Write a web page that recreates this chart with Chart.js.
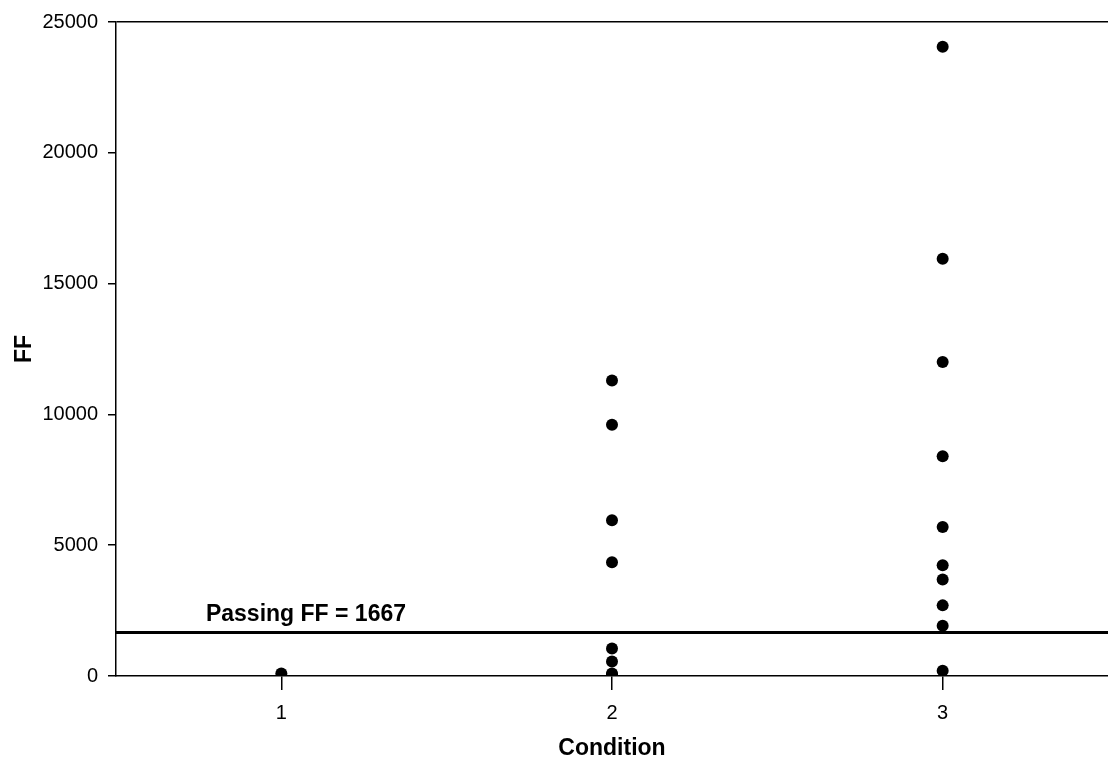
<!DOCTYPE html>
<html>
<head>
<meta charset="utf-8">
<script src="https://cdn.jsdelivr.net/npm/chart.js@4/dist/chart.umd.min.js"></script>
<style>
  html, body { margin: 0; padding: 0; background: #fff; overflow: hidden; }
  #wrap { width: 1108px; height: 762px; position: relative; }
</style>
</head>
<body>
<div id="wrap"><canvas id="c"></canvas></div>
<script>
// Condition categories on the x axis
const conditions = [1, 2, 3];

// FF values observed under each condition
const condition1FF = [100];
const condition2FF = [11300, 9600, 5950, 4350, 1050, 550, 100, 50];
const condition3FF = [24050, 15950, 12000, 8400, 5700, 4230, 3690, 2700, 1920, 200];

// Passing threshold
const passingFF = 1667;
const passingLabel = 'Passing FF = ' + passingFF;

// Y axis range and tick step
const yMax = 25000;
const yStep = 5000;

const FONT = '"Liberation Sans", Arial, Helvetica, sans-serif';

const toPoints = (cond, vals) => vals.map(v => ({ x: cond, y: v }));
const allPoints = [].concat(
  toPoints(conditions[0], condition1FF),
  toPoints(conditions[1], condition2FF),
  toPoints(conditions[2], condition3FF)
);

// Writes the threshold caption just above the passing line
const passingCaption = {
  id: 'passingCaption',
  afterDatasetsDraw(chart) {
    const { ctx, scales } = chart;
    const x = scales.x.getPixelForValue(0.772);
    const y = scales.y.getPixelForValue(passingFF) - 11;
    ctx.save();
    ctx.font = 'bold 23px ' + FONT;
    ctx.fillStyle = '#000';
    ctx.textAlign = 'left';
    ctx.textBaseline = 'alphabetic';
    ctx.fillText(passingLabel, x, y);
    ctx.restore();
  }
};

new Chart(document.getElementById('c'), {
  type: 'scatter',
  data: {
    datasets: [
      {
        label: 'FF',
        data: allPoints,
        pointRadius: 6,
        pointHoverRadius: 6,
        pointBackgroundColor: '#000',
        pointBorderColor: '#000',
        pointBorderWidth: 0
      },
      {
        label: 'Passing',
        data: [{ x: 0.5, y: passingFF }, { x: 3.5, y: passingFF }],
        showLine: true,
        borderColor: '#000',
        borderWidth: 3,
        pointRadius: 0,
        pointHoverRadius: 0
      }
    ]
  },
  options: {
    responsive: true,
    maintainAspectRatio: false,
    animation: false,
    layout: { autoPadding: false, padding: { top: 20, right: 0, left: 0, bottom: 0 } },
    plugins: {
      legend: { display: false },
      tooltip: { enabled: false }
    },
    scales: {
      x: {
        type: 'linear',
        min: 0.5,
        max: 3.5,
        afterBuildTicks(scale) {
          scale.ticks = conditions.map(v => ({ value: v }));
        },
        afterFit(scale) { scale.height = 86; },
        grid: {
          drawOnChartArea: false,
          color: '#000',
          tickColor: '#000',
          tickLength: 14,
          lineWidth: 1.5
        },
        border: { display: true, color: '#000', width: 1.5 },
        ticks: {
          color: '#000',
          font: { family: FONT, size: 20 },
          padding: 11,
          maxRotation: 0,
          callback: v => String(v)
        },
        title: {
          display: true,
          text: 'Condition',
          color: '#000',
          font: { family: FONT, size: 23, weight: 'bold' },
          padding: { top: 0, bottom: 0 }
        }
      },
      y: {
        min: 0,
        max: yMax,
        afterFit(scale) { scale.width = 116; },
        grid: {
          drawOnChartArea: true,
          color: ctx => (ctx.tick && ctx.tick.value === yMax) ? '#000' : 'rgba(0,0,0,0)',
          tickColor: '#000',
          tickLength: 8,
          lineWidth: 1.5
        },
        border: { display: true, color: '#000', width: 1.5 },
        ticks: {
          stepSize: yStep,
          color: '#000',
          font: { family: FONT, size: 20 },
          padding: 10,
          callback: v => String(v)
        },
        title: {
          display: true,
          text: 'FF',
          color: '#000',
          font: { family: FONT, size: 23, weight: 'bold' },
          padding: { top: 11, bottom: 0 }
        }
      }
    }
  },
  plugins: [passingCaption]
});
</script>
</body>
</html>
